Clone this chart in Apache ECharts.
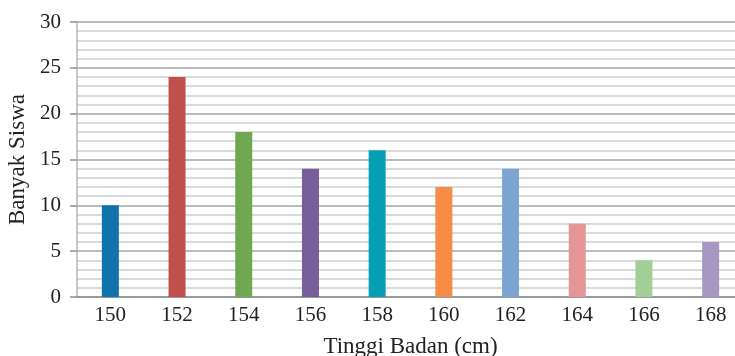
<!DOCTYPE html>
<html lang="id">
<head>
    <meta charset="UTF-8">
    <script src="https://cdn.jsdelivr.net/npm/echarts@6/dist/echarts.min.js"></script>
    <title>Tinggi Badan</title>
    <style>
        html, body { margin: 0; padding: 0; background: #fff; }
        #container { width: 735px; height: 356px; }
    </style>
</head>
<body>
<div id="container"></div>
<script type="application/javascript">
    // data
    const heights = ['150', '152', '154', '156', '158', '160', '162', '164', '166', '168'];
    const students = [10, 24, 18, 14, 16, 12, 14, 8, 4, 6];
    const barColors = ['#1173ac', '#c0504d', '#70a851', '#775e9a', '#069eb5',
        '#f68c46', '#7ca6d1', '#e69597', '#a4ce97', '#a798c3'];

    const myChart = echarts.init(document.getElementById('container'), null, {renderer: 'canvas'});
    const serif = '"Liberation Serif", "DejaVu Serif", serif';

    let data = [];
    for (let i = 0; i < heights.length; i++) {
        data.push({value: students[i], itemStyle: {color: barColors[i]}});
    }

    const option = {
        animation: false,
        grid: {left: 77, top: 22, width: 667, height: 275, outerBoundsMode: 'none', containLabel: false},
        xAxis: {
            type: 'category',
            data: heights,
            name: 'Tinggi Badan (cm)',
            nameLocation: 'middle',
            nameGap: 38,
            nameTextStyle: {fontFamily: serif, fontSize: 23, color: '#222'},
            axisLine: {lineStyle: {color: '#8c9094', width: 1.5}},
            axisTick: {show: false},
            axisLabel: {fontFamily: serif, fontSize: 21, color: '#222', margin: 8}
        },
        yAxis: {
            type: 'value',
            min: 0,
            max: 30,
            interval: 5,
            name: 'Banyak Siswa',
            nameLocation: 'middle',
            nameGap: 47,
            nameTextStyle: {fontFamily: serif, fontSize: 23, color: '#222'},
            axisLine: {show: true, lineStyle: {color: '#b4b8bb', width: 1.5}},
            axisTick: {show: true, length: 7, lineStyle: {color: '#8c9094', width: 1.5}},
            axisLabel: {fontFamily: serif, fontSize: 21, color: '#222', margin: 16},
            splitLine: {lineStyle: {color: '#a2a6aa', width: 1.5}},
            minorTick: {show: false, splitNumber: 5},
            minorSplitLine: {show: true, lineStyle: {color: '#cdd0d0', width: 1.5}}
        },
        series: [{
            type: 'bar',
            barWidth: 17,
            data: data
        }]
    };
    myChart.setOption(option);
</script>
</body>
</html>
